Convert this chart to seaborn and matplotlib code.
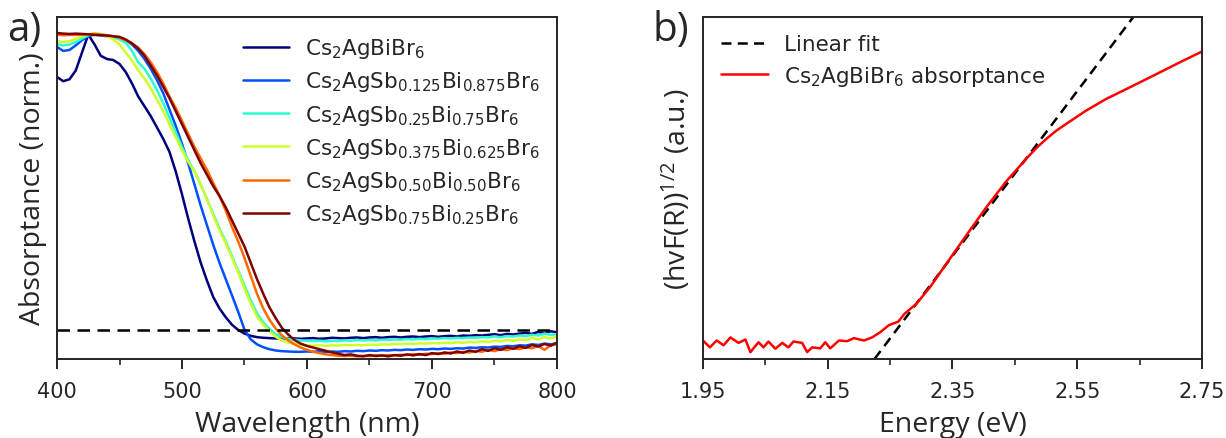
import matplotlib
matplotlib.use("Agg")
import matplotlib.pyplot as plt
import seaborn as sns
import pandas as pd
import numpy as np
from matplotlib.ticker import MultipleLocator

# ---------------- data: panel a ----------------
wavelength = list(range(400, 801, 5))

abs_bi = [0.865, 0.852, 0.858, 0.885, 0.94, 0.995, 0.965, 0.93, 0.92, 0.917,
          0.905, 0.88, 0.845, 0.805, 0.775, 0.745, 0.71, 0.675, 0.635, 0.575,
          0.505, 0.43, 0.36, 0.295, 0.24, 0.19, 0.155, 0.128, 0.105, 0.089,
          0.078, 0.071, 0.067, 0.065, 0.064, 0.063, 0.063, 0.064, 0.063, 0.062,
          0.063,
          0.064, 0.062, 0.063, 0.065, 0.064, 0.063, 0.065, 0.066, 0.064, 0.066,
          0.067, 0.065, 0.067, 0.068, 0.066, 0.068, 0.069, 0.067, 0.069, 0.070,
          0.068, 0.070, 0.071, 0.069, 0.072, 0.071, 0.073, 0.072, 0.074, 0.076,
          0.073, 0.077, 0.075, 0.078, 0.080, 0.077, 0.083, 0.079, 0.085, 0.082]

abs_sb0125 = [0.957, 0.945, 0.948, 0.962, 0.978, 0.99, 0.995, 0.993, 0.99, 0.988,
              0.985, 0.978, 0.965, 0.945, 0.92, 0.89, 0.855, 0.815, 0.765, 0.715,
              0.66, 0.60, 0.535, 0.47, 0.41, 0.35, 0.295, 0.245, 0.195, 0.144,
              0.09, 0.06, 0.045, 0.036, 0.03, 0.026, 0.024, 0.023, 0.022, 0.022,
              0.023,
              0.022, 0.024, 0.021, 0.023, 0.022, 0.024, 0.023, 0.025, 0.024, 0.026,
              0.025, 0.027, 0.026, 0.028, 0.027, 0.029, 0.028, 0.030, 0.029, 0.031,
              0.030, 0.032, 0.031, 0.033, 0.032, 0.035, 0.034, 0.036, 0.035, 0.038,
              0.037, 0.040, 0.039, 0.042, 0.041, 0.045, 0.043, 0.047, 0.045, 0.048]

abs_sb025 = [0.966, 0.962, 0.965, 0.972, 0.983, 0.993, 0.998, 0.997, 0.992, 0.987,
             0.98, 0.97, 0.945, 0.91, 0.89, 0.86, 0.825, 0.785, 0.74, 0.695,
             0.65, 0.61, 0.575, 0.535, 0.49, 0.445, 0.40, 0.36, 0.315, 0.27,
             0.225, 0.18, 0.14, 0.112, 0.092, 0.076, 0.067, 0.062, 0.059, 0.057,
             0.056,
             0.055, 0.056, 0.054, 0.056, 0.055, 0.057, 0.056, 0.058, 0.057, 0.058,
             0.057, 0.059, 0.058, 0.060, 0.059, 0.061, 0.060, 0.062, 0.061, 0.063,
             0.062, 0.064, 0.063, 0.065, 0.064, 0.066, 0.065, 0.067, 0.066, 0.069,
             0.067, 0.070, 0.069, 0.072, 0.070, 0.074, 0.072, 0.078, 0.074, 0.076]

abs_sb0375 = [0.975, 0.972, 0.975, 0.982, 0.99, 0.996, 0.999, 0.996, 0.99, 0.98,
              0.965, 0.94, 0.915, 0.885, 0.86, 0.83, 0.795, 0.76, 0.72, 0.68,
              0.64, 0.605, 0.575, 0.535, 0.49, 0.44, 0.395, 0.355, 0.31, 0.265,
              0.215, 0.17, 0.13, 0.105, 0.085, 0.068, 0.057, 0.05, 0.046, 0.043,
              0.042,
              0.041, 0.042, 0.040, 0.042, 0.041, 0.043, 0.042, 0.043, 0.042, 0.044,
              0.043, 0.045, 0.044, 0.046, 0.045, 0.047, 0.046, 0.048, 0.047, 0.049,
              0.048, 0.050, 0.049, 0.051, 0.050, 0.052, 0.051, 0.054, 0.052, 0.056,
              0.054, 0.058, 0.056, 0.060, 0.058, 0.064, 0.060, 0.067, 0.063, 0.068]

abs_sb050 = [0.995, 0.993, 0.994, 0.994, 0.995, 0.996, 0.997, 0.995, 0.993, 0.99,
             0.985, 0.978, 0.968, 0.955, 0.935, 0.91, 0.88, 0.845, 0.805, 0.77,
             0.73, 0.69, 0.65, 0.615, 0.58, 0.54, 0.50, 0.455, 0.405, 0.36,
             0.31, 0.255, 0.20, 0.155, 0.12, 0.093, 0.072, 0.057, 0.045, 0.035,
             0.028,
             0.022, 0.018, 0.014, 0.012, 0.010, 0.009, 0.010, 0.008, 0.010, 0.009,
             0.011, 0.010, 0.012, 0.011, 0.013, 0.012, 0.015, 0.013, 0.016, 0.015,
             0.018, 0.016, 0.020, 0.018, 0.022, 0.020, 0.025, 0.022, 0.028, 0.024,
             0.030, 0.027, 0.033, 0.030, 0.036, 0.033, 0.040, 0.028, 0.042, 0.045]

abs_sb075 = [1.0, 0.998, 0.997, 0.998, 0.997, 0.996, 0.994, 0.993, 0.992, 0.99,
             0.988, 0.98, 0.968, 0.952, 0.93, 0.90, 0.87, 0.835, 0.80, 0.76,
             0.72, 0.68, 0.64, 0.60, 0.565, 0.53, 0.50, 0.465, 0.425, 0.385,
             0.345, 0.295, 0.245, 0.20, 0.158, 0.125, 0.095, 0.075, 0.058, 0.047,
             0.04,
             0.035, 0.030, 0.025, 0.020, 0.016, 0.012, 0.014, 0.010, 0.008, 0.012,
             0.009, 0.011, 0.008, 0.012, 0.010, 0.014, 0.011, 0.015, 0.012, 0.018,
             0.015, 0.020, 0.017, 0.023, 0.019, 0.026, 0.022, 0.030, 0.025, 0.033,
             0.028, 0.036, 0.031, 0.039, 0.034, 0.043, 0.038, 0.046, 0.041, 0.050]

sample_labels = ['Cs$_2$AgBiBr$_6$',
                 'Cs$_2$AgSb$_{0.125}$Bi$_{0.875}$Br$_6$',
                 'Cs$_2$AgSb$_{0.25}$Bi$_{0.75}$Br$_6$',
                 'Cs$_2$AgSb$_{0.375}$Bi$_{0.625}$Br$_6$',
                 'Cs$_2$AgSb$_{0.50}$Bi$_{0.50}$Br$_6$',
                 'Cs$_2$AgSb$_{0.75}$Bi$_{0.25}$Br$_6$']
threshold = 0.089

# ---------------- data: panel b ----------------
energy = [1.950, 1.961, 1.972, 1.983, 1.994, 2.007, 2.018, 2.026, 2.039, 2.047,
          2.055, 2.066, 2.077, 2.087, 2.095, 2.109, 2.117, 2.125, 2.138, 2.146,
          2.154, 2.168, 2.181, 2.192, 2.208, 2.221, 2.234, 2.248, 2.263, 2.273,
          2.292, 2.314, 2.340, 2.372, 2.404, 2.436, 2.468, 2.484, 2.500, 2.516,
          2.532, 2.564, 2.596, 2.634, 2.677, 2.714, 2.750]
tauc = [0.054, 0.034, 0.054, 0.040, 0.063, 0.047, 0.057, 0.020, 0.049, 0.034,
        0.051, 0.030, 0.047, 0.034, 0.051, 0.047, 0.020, 0.034, 0.031, 0.049,
        0.031, 0.054, 0.052, 0.061, 0.054, 0.063, 0.078, 0.099, 0.109, 0.132,
        0.161, 0.210, 0.278, 0.361, 0.443, 0.519, 0.585, 0.616, 0.643, 0.667,
        0.687, 0.726, 0.760, 0.794, 0.833, 0.867, 0.899]
fit_eg = 2.225      # x-intercept of linear fit (eV)
fit_slope = 2.41    # slope of linear fit
fit_end = 2.66

series = [abs_bi, abs_sb0125, abs_sb025, abs_sb0375, abs_sb050, abs_sb075]
for s in series:
    assert len(s) == len(wavelength), len(s)
assert len(energy) == len(tauc)

# ---------------- style ----------------
colors = ['#00007f', '#0050ff', '#29ffce', '#ceff29', '#ff6a00', '#7f0000']
sns.set_style('ticks')
plt.rcParams['font.family'] = ['DejaVu Sans']
plt.rcParams['mathtext.default'] = 'regular'
plt.rcParams['axes.linewidth'] = 1.4

fig, (ax1, ax2) = plt.subplots(1, 2, figsize=(12.26, 4.39), dpi=100)
ax1.set_position([0.0465, 0.180, 0.4078, 0.779])
ax2.set_position([0.5734, 0.180, 0.4070, 0.779])

df = pd.DataFrame({
    'Wavelength': np.tile(wavelength, len(series)),
    'Absorptance': np.concatenate(series),
    'Sample': np.repeat(sample_labels, len(wavelength)),
})
sns.lineplot(data=df, x='Wavelength', y='Absorptance', hue='Sample',
             hue_order=sample_labels, palette=colors, estimator=None,
             linewidth=1.8, ax=ax1)
ax1.axhline(threshold, color='black', ls='--', lw=1.8, dashes=(5, 3))

ax1.set_xlim(400, 800)
ax1.set_ylim(0, 1.049)
ax1.xaxis.set_major_locator(MultipleLocator(100))
ax1.xaxis.set_minor_locator(MultipleLocator(50))
ax1.set_yticks([])

h, l = ax1.get_legend_handles_labels()
ax1.legend(h, l, loc='upper left', bbox_to_anchor=(0.372, 0.944), frameon=False,
           fontsize=15.5, borderpad=0, borderaxespad=0, handlelength=2.15,
           handletextpad=0.75, labelspacing=0.43)

# panel b
dfb = pd.DataFrame({'Energy': energy, 'Tauc': tauc})
fit_x = np.array([fit_eg, fit_end])
fit_y = fit_slope * (fit_x - fit_eg)
sns.lineplot(x=fit_x, y=fit_y, color='black', linestyle='--', linewidth=1.8,
             ax=ax2, label='Linear fit')
sns.lineplot(data=dfb, x='Energy', y='Tauc', color='red', linewidth=1.8,
             estimator=None, sort=False, ax=ax2,
             label='Cs$_2$AgBiBr$_6$ absorptance')
ax2.lines[0].set_dashes((4, 2.5))
ax2.set_xlim(1.95, 2.75)
ax2.set_ylim(0, 1.0)
ax2.set_xticks([1.95, 2.15, 2.35, 2.55, 2.75])
ax2.set_xticklabels(['1.95', '2.15', '2.35', '2.55', '2.75'])
ax2.set_xticks([2.05, 2.25, 2.45, 2.65], minor=True)
ax2.set_yticks([])
ax2.legend(loc='upper left', bbox_to_anchor=(0.037, 0.95), frameon=False,
           fontsize=15.5, borderpad=0, borderaxespad=0, handlelength=2.15,
           handletextpad=0.75, labelspacing=0.45)

for ax in (ax1, ax2):
    ax.tick_params(axis='x', which='major', direction='out', length=7, width=1.4,
                   labelsize=15, pad=9)
    ax.tick_params(axis='x', which='minor', direction='out', length=4, width=1.2)
    for sp in ax.spines.values():
        sp.set_visible(True)
        sp.set_linewidth(1.4)

lab_font = dict(fontfamily='Open Sans', fontsize=20.5)
ax1.set_xlabel('Wavelength (nm)', labelpad=6, **lab_font)
ax1.set_ylabel('Absorptance (norm.)', labelpad=7, **lab_font)
ax2.set_xlabel('Energy (eV)', labelpad=6, **lab_font)
ax2.set_ylabel('(hvF(R))$^{1/2}$ (a.u.)', labelpad=7, **lab_font)

fig.text(0.006, 0.975, 'a)', fontfamily='Open Sans', fontsize=29, va='top', ha='left')
fig.text(0.532, 0.975, 'b)', fontfamily='Open Sans', fontsize=29, va='top', ha='left')

fig.savefig('out.png', dpi=100)
